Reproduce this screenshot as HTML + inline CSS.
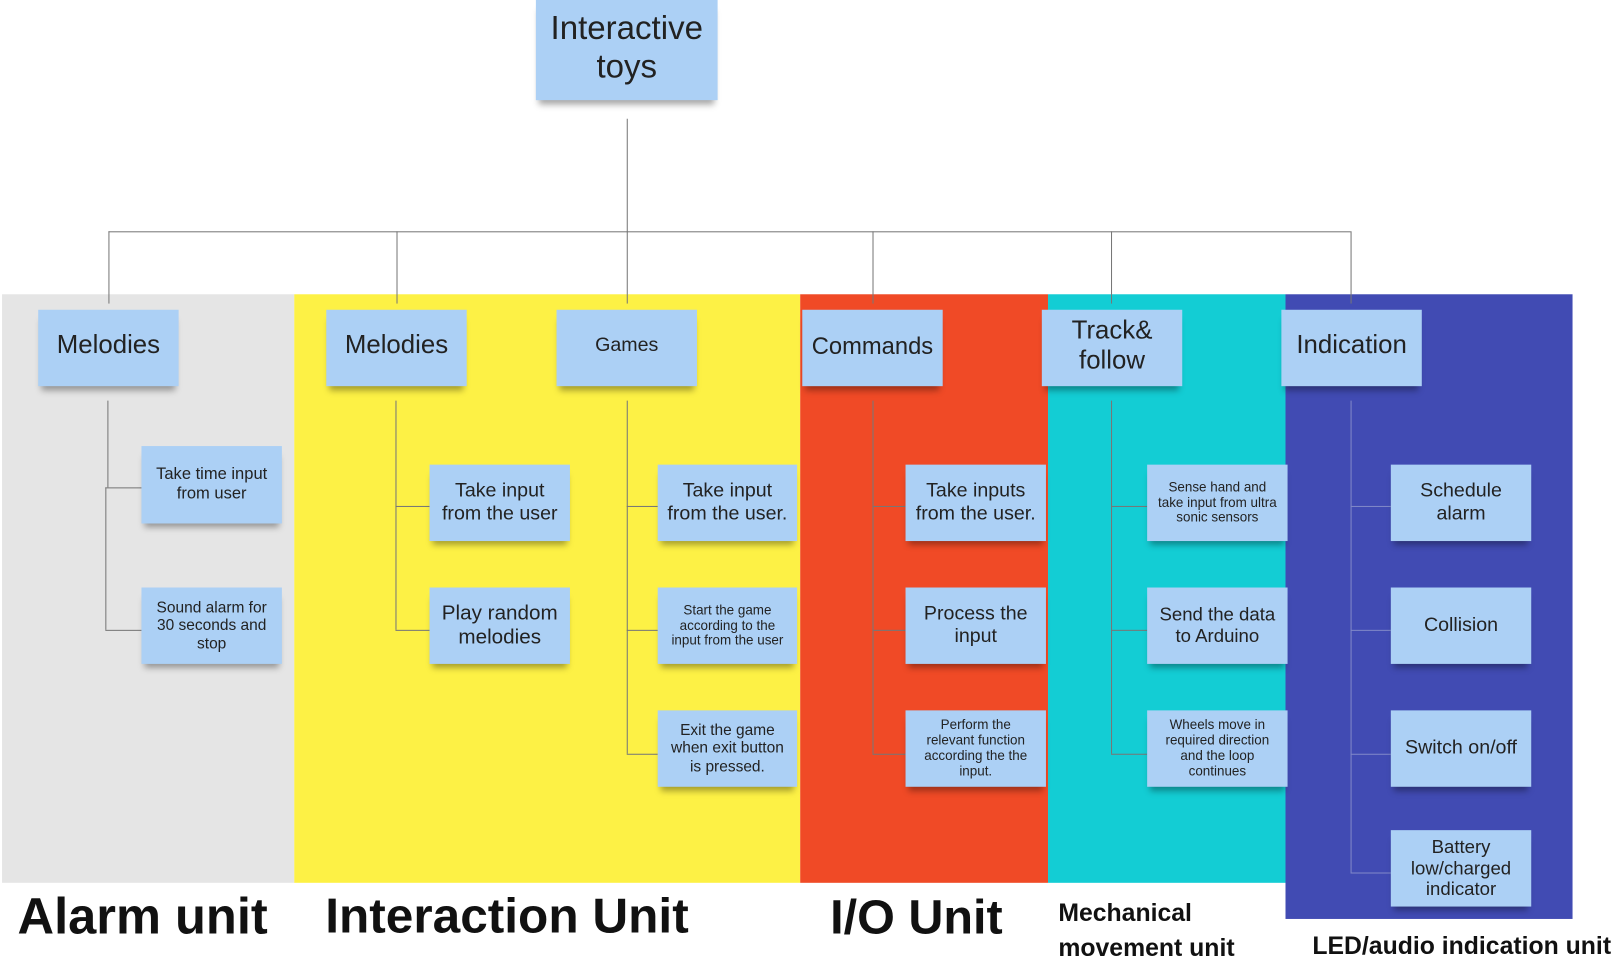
<!DOCTYPE html>
<html><head><meta charset="utf-8"><style>
html,body{margin:0;padding:0;background:#fff;overflow:hidden}
#w{width:1568px;height:934px;position:relative;transform:scale(1.03253);transform-origin:0 0;font-family:"Liberation Sans",sans-serif}
.bg{position:absolute}
.n{position:absolute;background:#acd0f5;display:flex;align-items:center;justify-content:center;text-align:center;color:#222;box-shadow:0 7px 6px -3px rgba(0,0,0,0.35);line-height:1.15;box-sizing:border-box;padding:2px 6px}
.l{position:absolute;background:#777}
.t{position:absolute;font-weight:bold;color:#111;white-space:nowrap}
</style></head><body><div id="w">
<div class="bg" style="left:2px;top:285px;width:283px;height:570px;background:#e5e5e5"></div>
<div class="bg" style="left:285px;top:285px;width:490px;height:570px;background:#fdf145"></div>
<div class="bg" style="left:775px;top:285px;width:240px;height:570px;background:#f04a26"></div>
<div class="bg" style="left:1015px;top:285px;width:230px;height:570px;background:#13cdd4"></div>
<div class="bg" style="left:1245px;top:285px;width:278px;height:605px;background:#414bb3"></div>

<div class="l" style="left:607px;top:115px;width:1px;height:110px"></div>
<div class="l" style="left:105px;top:224px;width:1203px;height:1px"></div>
<div class="l" style="left:105px;top:224px;width:1px;height:70px"></div>
<div class="l" style="left:384px;top:224px;width:1px;height:70px"></div>
<div class="l" style="left:607px;top:224px;width:1px;height:70px"></div>
<div class="l" style="left:845px;top:224px;width:1px;height:70px"></div>
<div class="l" style="left:1076px;top:224px;width:1px;height:70px"></div>
<div class="l" style="left:1308px;top:224px;width:1px;height:70px"></div>

<div class="l" style="left:104px;top:388px;width:1px;height:84px"></div>
<div class="l" style="left:102px;top:472px;width:1px;height:138px"></div>
<div class="l" style="left:102px;top:472px;width:35px;height:1px"></div>
<div class="l" style="left:102px;top:610px;width:35px;height:1px"></div>

<div class="l" style="left:383px;top:388px;width:1px;height:222px"></div>
<div class="l" style="left:383px;top:490px;width:33px;height:1px"></div>
<div class="l" style="left:383px;top:610px;width:33px;height:1px"></div>

<div class="l" style="left:607px;top:388px;width:1px;height:342px"></div>
<div class="l" style="left:607px;top:490px;width:30px;height:1px"></div>
<div class="l" style="left:607px;top:610px;width:30px;height:1px"></div>
<div class="l" style="left:607px;top:730px;width:30px;height:1px"></div>

<div class="l" style="left:845px;top:388px;width:1px;height:342px"></div>
<div class="l" style="left:845px;top:490px;width:32px;height:1px"></div>
<div class="l" style="left:845px;top:610px;width:32px;height:1px"></div>
<div class="l" style="left:845px;top:730px;width:32px;height:1px"></div>

<div class="l" style="left:1076px;top:388px;width:1px;height:342px"></div>
<div class="l" style="left:1076px;top:490px;width:35px;height:1px"></div>
<div class="l" style="left:1076px;top:610px;width:35px;height:1px"></div>
<div class="l" style="left:1076px;top:730px;width:35px;height:1px"></div>

<div class="l" style="left:1308px;top:388px;width:1px;height:457px;background:#8088c8"></div>
<div class="l" style="left:1308px;top:490px;width:39px;height:1px;background:#8088c8"></div>
<div class="l" style="left:1308px;top:610px;width:39px;height:1px;background:#8088c8"></div>
<div class="l" style="left:1308px;top:730px;width:39px;height:1px;background:#8088c8"></div>
<div class="l" style="left:1308px;top:845px;width:39px;height:1px;background:#8088c8"></div>

<div class="n" style="left:519px;top:0;width:176px;height:97px;font-size:32px;padding-bottom:8px">Interactive<br>toys</div>

<div class="n" style="left:37px;top:300px;width:136px;height:74px;font-size:25px;padding-bottom:8px">Melodies</div>
<div class="n" style="left:316px;top:300px;width:136px;height:74px;font-size:25px;padding-bottom:8px">Melodies</div>
<div class="n" style="left:539px;top:300px;width:136px;height:74px;font-size:19px;padding-bottom:6px">Games</div>
<div class="n" style="left:777px;top:300px;width:136px;height:74px;font-size:23px;padding-bottom:6px">Commands</div>
<div class="n" style="left:1009px;top:300px;width:136px;height:74px;font-size:25px;padding-bottom:6px">Track&amp;<br>follow</div>
<div class="n" style="left:1241px;top:300px;width:136px;height:74px;font-size:25px;padding-bottom:8px">Indication</div>

<div class="n" style="left:137px;top:432px;width:136px;height:75px;font-size:16px;padding:2px 10px">Take time input from user</div>
<div class="n" style="left:137px;top:569px;width:136px;height:74px;font-size:15px;padding:2px 10px">Sound alarm for 30 seconds and stop</div>

<div class="n" style="left:416px;top:450px;width:136px;height:74px;font-size:19px">Take input from the user</div>
<div class="n" style="left:416px;top:569px;width:136px;height:74px;font-size:20px">Play random melodies</div>

<div class="n" style="left:637px;top:450px;width:135px;height:74px;font-size:19px">Take input from the user.</div>
<div class="n" style="left:637px;top:569px;width:135px;height:74px;font-size:13px;padding:2px 10px">Start the game according to the input from the user</div>
<div class="n" style="left:637px;top:688px;width:135px;height:74px;font-size:15px">Exit the game when exit button is pressed.</div>

<div class="n" style="left:877px;top:450px;width:136px;height:74px;font-size:19px">Take inputs from the user.</div>
<div class="n" style="left:877px;top:569px;width:136px;height:74px;font-size:19px">Process the input</div>
<div class="n" style="left:877px;top:688px;width:136px;height:74px;font-size:13px;padding:2px 14px">Perform the relevant function according the the input.</div>

<div class="n" style="left:1111px;top:450px;width:136px;height:74px;font-size:13px;padding:2px 10px">Sense hand and take input from ultra sonic sensors</div>
<div class="n" style="left:1111px;top:569px;width:136px;height:74px;font-size:18px">Send the data to Arduino</div>
<div class="n" style="left:1111px;top:688px;width:136px;height:74px;font-size:13px;padding:2px 12px">Wheels move in required direction and the loop continues</div>

<div class="n" style="left:1347px;top:450px;width:136px;height:74px;font-size:19px">Schedule alarm</div>
<div class="n" style="left:1347px;top:569px;width:136px;height:74px;font-size:19px">Collision</div>
<div class="n" style="left:1347px;top:688px;width:136px;height:74px;font-size:19px">Switch on/off</div>
<div class="n" style="left:1347px;top:804px;width:136px;height:74px;font-size:18px">Battery low/charged indicator</div>

<div class="t" style="left:17px;top:860px;font-size:49px">Alarm unit</div>
<div class="t" style="left:315px;top:860px;font-size:48px">Interaction Unit</div>
<div class="t" style="left:804px;top:860px;font-size:47px">I/O Unit</div>
<div class="t" style="left:1025px;top:868px;font-size:24px;line-height:34px">Mechanical<br>movement unit</div>
<div class="t" style="left:1271px;top:903px;font-size:24px">LED/audio indication unit</div>
</div></body></html>
